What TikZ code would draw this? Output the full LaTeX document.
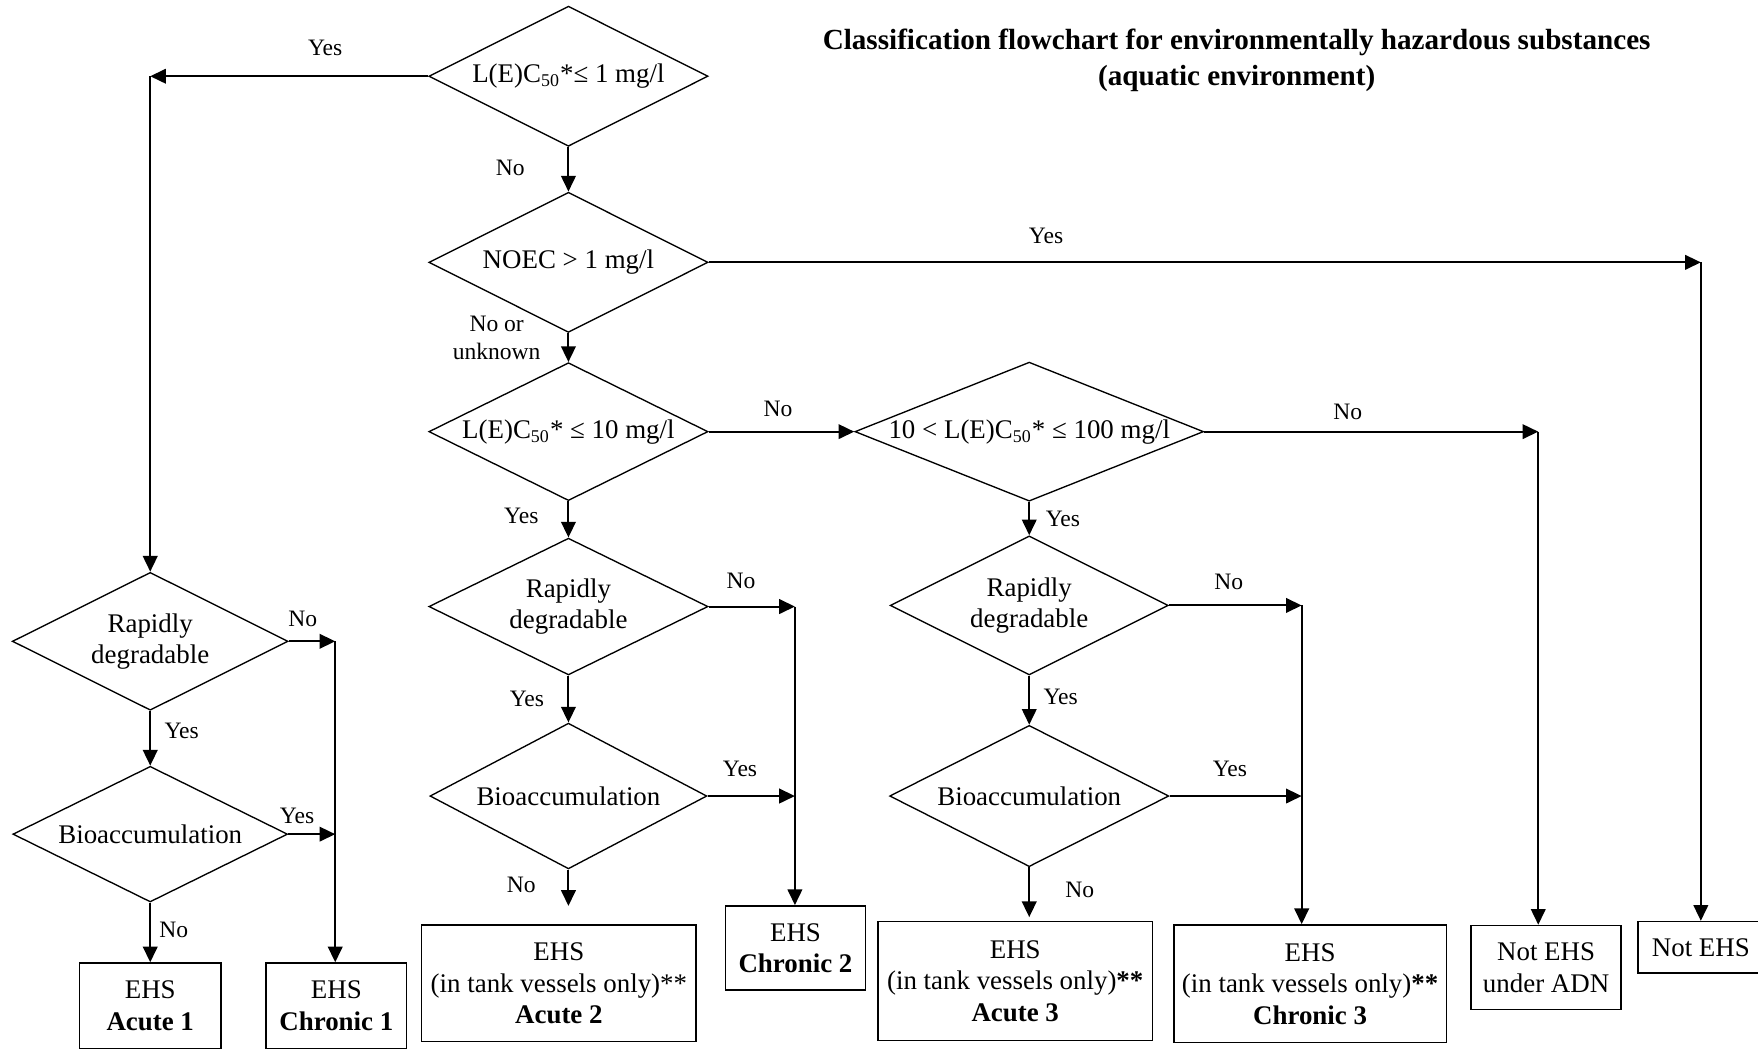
\documentclass[tikz,border=0pt]{standalone}
\usepackage{fontspec}
\setmainfont{Liberation Serif}
\usetikzlibrary{shapes.geometric}
\usetikzlibrary{arrows.meta}

\begin{document}
\begin{tikzpicture}[x=0.5pt,y=-0.5pt,
  every node/.style={font=\fontsize{12}{14}\selectfont},
  decision/.style={diamond, draw, line width=0.6pt, inner sep=0pt, aspect=2, align=center},
  result/.style={draw, line width=0.7pt, inner sep=0pt, align=center},
  answer/.style={font=\fontsize{10.5}{12.5}\selectfont, align=center, inner sep=0pt},
  flow/.style={-{Triangle[length=7pt,width=6.5pt]}, line width=0.9pt}]
\useasboundingbox (0,0) rectangle (1568,935);

\node[font=\bfseries\fontsize{13}{16}\selectfont, align=center] (title) at (1103,54)
  {Classification flowchart for environmentally hazardous substances\\(aquatic environment)};

% decisions
\node[decision, minimum width=124.5pt, minimum height=62.5pt] (lc1) at (507,68) {L(E)C\textsubscript{50}*≤ 1 mg/l};
\node[decision, minimum width=124.5pt, minimum height=62.5pt] (noec) at (507,234) {NOEC > 1 mg/l};
\node[decision, minimum width=124.5pt, minimum height=61.5pt] (lc10) at (507,385) {L(E)C\textsubscript{50}* ≤ 10 mg/l};
\node[decision, aspect=2.5, minimum width=155.5pt, minimum height=62pt] (lc100) at (918,385) {10 < L(E)C\textsubscript{50}* ≤ 100 mg/l};
\node[decision, minimum width=123pt, minimum height=61.5pt] (rapidA) at (134,572) {Rapidly\\degradable};
\node[decision, minimum width=122.5pt, minimum height=60.5pt] (bioA) at (134,744) {Bioaccumulation};
\node[decision, minimum width=124.5pt, minimum height=61pt] (rapidB) at (507,541) {Rapidly\\degradable};
\node[decision, minimum width=123.5pt, minimum height=65pt] (bioB) at (507,710) {Bioaccumulation};
\node[decision, minimum width=124pt, minimum height=62pt] (rapidC) at (918,540) {Rapidly\\degradable};
\node[decision, minimum width=124.5pt, minimum height=63pt] (bioC) at (918,710) {Bioaccumulation};

% results
\node[result, minimum width=63pt, minimum height=38pt] (acuteA) at (134,897) {EHS\\\textbf{Acute 1}};
\node[result, minimum width=62.5pt, minimum height=38pt] (chronA) at (300,897) {EHS\\\textbf{Chronic 1}};
\node[result, minimum width=122.5pt, minimum height=52pt] (acuteB) at (498.5,877) {EHS\\(in tank vessels only)**\\\textbf{Acute 2}};
\node[result, minimum width=62.5pt, minimum height=37.5pt] (chronB) at (709.5,845.5) {EHS\\\textbf{Chronic 2}};
\node[result, minimum width=122.5pt, minimum height=53pt] (acuteC) at (905.5,875) {EHS\\(in tank vessels only)\textbf{**}\\\textbf{Acute 3}};
\node[result, minimum width=121.5pt, minimum height=52.5pt] (chronC) at (1168.5,877.5) {EHS\\(in tank vessels only)\textbf{**}\\\textbf{Chronic 3}};
\node[result, minimum width=67pt, minimum height=37.5pt] (notadn) at (1379,863) {Not EHS\\under ADN};
\node[result, minimum width=56pt, minimum height=23pt] (notehs) at (1517,845) {Not EHS};

% corners and loose ends
\coordinate (cA) at (134,68);
\coordinate (cNot) at (1517,234);
\coordinate (cAdn) at (1372,385);
\coordinate (cA1) at (299,572);
\coordinate (cA2) at (299,744);
\coordinate (cB1) at (709,541);
\coordinate (cB2) at (709,710);
\coordinate (cC1) at (1161,540);
\coordinate (cC2) at (1161,710);
\coordinate (eB) at (507,808);
\coordinate (eC) at (918,818);

\draw[flow] (lc1.west) -- (cA);
\draw[flow] (cA) -- (rapidA.north);
\draw[flow] (lc1.south) -- (noec.north);
\draw[flow] (noec.east) -- (cNot);
\draw[flow] (cNot) -- (notehs.north);
\draw[flow] (noec.south) -- (lc10.north);
\draw[flow] (lc10.east) -- (lc100.west);
\draw[flow] (lc100.east) -- (cAdn);
\draw[flow] (cAdn) -- (cAdn |- notadn.north);
\draw[flow] (lc10.south) -- (rapidB.north);
\draw[flow] (rapidB.east) -- (cB1);
\draw[flow] (cB1) -- (cB1 |- chronB.north);
\draw[flow] (rapidB.south) -- (bioB.north);
\draw[flow] (bioB.east) -- (cB2);
\draw[flow] (bioB.south) -- (eB);
\draw[flow] (lc100.south) -- (rapidC.north);
\draw[flow] (rapidC.east) -- (cC1);
\draw[flow] (cC1) -- (cC1 |- chronC.north);
\draw[flow] (rapidC.south) -- (bioC.north);
\draw[flow] (bioC.east) -- (cC2);
\draw[flow] (bioC.south) -- (eC);
\draw[flow] (rapidA.east) -- (cA1);
\draw[flow] (cA1) -- (cA1 |- chronA.north);
\draw[flow] (rapidA.south) -- (bioA.north);
\draw[flow] (bioA.east) -- (cA2);
\draw[flow] (bioA.south) -- (acuteA.north);

% answers
\node[answer] (a1) at (290,43) {Yes};
\node[answer] (a2) at (455,150) {No};
\node[answer] (a3) at (933,210) {Yes};
\node[answer] (a4) at (443,301) {No or\\unknown};
\node[answer] (a5) at (694,365) {No};
\node[answer] (a6) at (1202,367) {No};
\node[answer] (a7) at (465,460) {Yes};
\node[answer] (a8) at (661,518) {No};
\node[answer] (a9) at (470,623) {Yes};
\node[answer] (a10) at (660,686) {Yes};
\node[answer] (a11) at (465,789) {No};
\node[answer] (a12) at (948,463) {Yes};
\node[answer] (a13) at (1096,519) {No};
\node[answer] (a14) at (946,622) {Yes};
\node[answer] (a15) at (1097,686) {Yes};
\node[answer] (a16) at (963,794) {No};
\node[answer] (a17) at (270,552) {No};
\node[answer] (a18) at (162,652) {Yes};
\node[answer] (a19) at (265,728) {Yes};
\node[answer] (a20) at (155,829) {No};
\end{tikzpicture}
\end{document}
